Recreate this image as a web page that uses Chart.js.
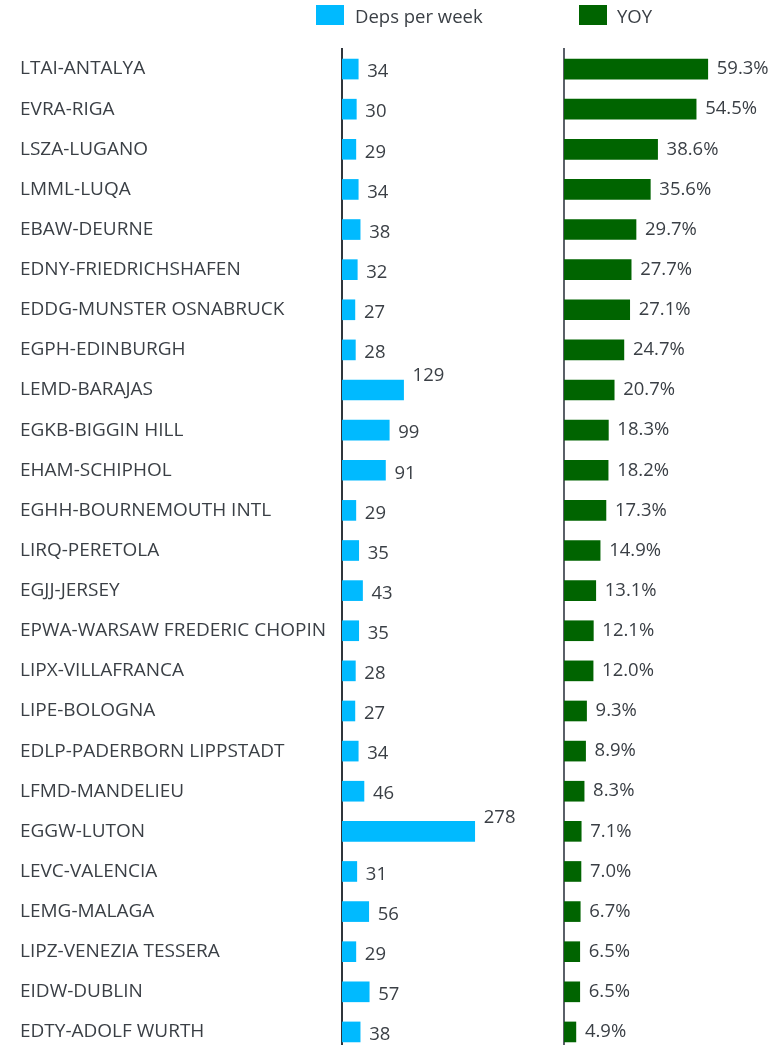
<!DOCTYPE html>
<html>
<head>
<meta charset="utf-8">
<script src="https://cdn.jsdelivr.net/npm/chart.js@4/dist/chart.umd.min.js"></script>
<style>
  html, body { margin:0; padding:0; background:#fff; overflow:hidden; width:781px; height:1045px; }
  #wrap { position:relative; width:781px; height:1045px; }
  canvas { position:absolute; top:0; }
  #c1 { left:0; }
  #c2 { left:540px; }
  .lg { position:absolute; font-family:"Open Sans", sans-serif; font-size:18.5px; color:#3a3f45; line-height:20px; }
  .sw { position:absolute; width:28px; height:20px; }
</style>
</head>
<body>
<div id="wrap">
  <canvas id="c1" width="564" height="1052"></canvas>
  <canvas id="c2" width="241" height="1052"></canvas>
  <div class="sw" style="left:316px;top:5px;background:#00BAFF"></div>
  <div class="lg" style="left:355px;top:6px">Deps per week</div>
  <div class="sw" style="left:579px;top:5px;background:#006400"></div>
  <div class="lg" style="left:617px;top:6px">YOY</div>
</div>
<script>
const categories = [
  "LTAI-ANTALYA","EVRA-RIGA","LSZA-LUGANO","LMML-LUQA","EBAW-DEURNE",
  "EDNY-FRIEDRICHSHAFEN","EDDG-MUNSTER OSNABRUCK","EGPH-EDINBURGH","LEMD-BARAJAS","EGKB-BIGGIN HILL",
  "EHAM-SCHIPHOL","EGHH-BOURNEMOUTH INTL","LIRQ-PERETOLA","EGJJ-JERSEY","EPWA-WARSAW FREDERIC CHOPIN",
  "LIPX-VILLAFRANCA","LIPE-BOLOGNA","EDLP-PADERBORN LIPPSTADT","LFMD-MANDELIEU","EGGW-LUTON",
  "LEVC-VALENCIA","LEMG-MALAGA","LIPZ-VENEZIA TESSERA","EIDW-DUBLIN","EDTY-ADOLF WURTH"
];
const depsPerWeek = [34,30,29,34,38,32,27,28,129,99,91,29,35,43,35,28,27,34,46,278,31,56,29,57,38];
const yoy = [59.3,54.5,38.6,35.6,29.7,27.7,27.1,24.7,20.7,18.3,18.2,17.3,14.9,13.1,12.1,12.0,9.3,8.9,8.3,7.1,7.0,6.7,6.5,6.5,4.9];
const seriesNames = ["Deps per week","YOY"];

const FONT = '"Open Sans", sans-serif';
const TXT = '#3a3f45';

function labelPlugin(fmt, dy, raiseAbove) {
  return {
    id: 'vals',
    afterDatasetsDraw(chart) {
      const ctx = chart.ctx;
      const meta = chart.getDatasetMeta(0);
      const data = chart.data.datasets[0].data;
      ctx.save();
      ctx.font = '18.5px ' + FONT;
      ctx.fillStyle = TXT;
      ctx.textAlign = 'left';
      ctx.textBaseline = 'middle';
      meta.data.forEach((bar, i) => {
        let y = bar.y + dy;
        if (raiseAbove !== null && data[i] > raiseAbove) y = bar.y - 14;
        ctx.fillText(fmt(data[i]), bar.x + 9, y);
      });
      ctx.restore();
    }
  };
}

new Chart(document.getElementById('c1'), {
  type: 'bar',
  data: { labels: categories, datasets: [{ label: seriesNames[0], data: depsPerWeek, backgroundColor: '#00BAFF', barThickness: 20 }] },
  options: {
    indexAxis: 'y', responsive: false, animation: false,
    layout: { padding: { left: 20, top: 49, right: 0, bottom: 0 } },
    plugins: { legend: { display: false }, tooltip: { enabled: false } },
    scales: {
      x: { display: false, min: 0, max: 465 },
      y: {
        afterFit(s) { s.width = 322; s.paddingTop = 0; s.paddingBottom = 0; },
        grid: { display: false },
        border: { display: true, color: '#2f353b', width: 2 },
        ticks: { crossAlign: 'far', color: TXT, font: { family: FONT, size: 19 }, autoSkip: false, padding: 0 }
      }
    }
  },
  plugins: [labelPlugin(v => String(v), 3, 100)]
});

new Chart(document.getElementById('c2'), {
  type: 'bar',
  data: { labels: categories, datasets: [{ label: seriesNames[1], data: yoy, backgroundColor: '#006400', barThickness: 20 }] },
  options: {
    indexAxis: 'y', responsive: false, animation: false,
    layout: { padding: { left: 0, top: 49, right: 0, bottom: 0 } },
    plugins: { legend: { display: false }, tooltip: { enabled: false } },
    scales: {
      x: { display: false, min: 0, max: 89.5 },
      y: {
        afterFit(s) { s.width = 24; s.paddingTop = 0; s.paddingBottom = 0; },
        grid: { display: false },
        border: { display: true, color: '#5a6068', width: 2 },
        ticks: { display: false }
      }
    }
  },
  plugins: [labelPlugin(v => v.toFixed(1) + '%', 0, null)]
});
</script>
</body>
</html>
